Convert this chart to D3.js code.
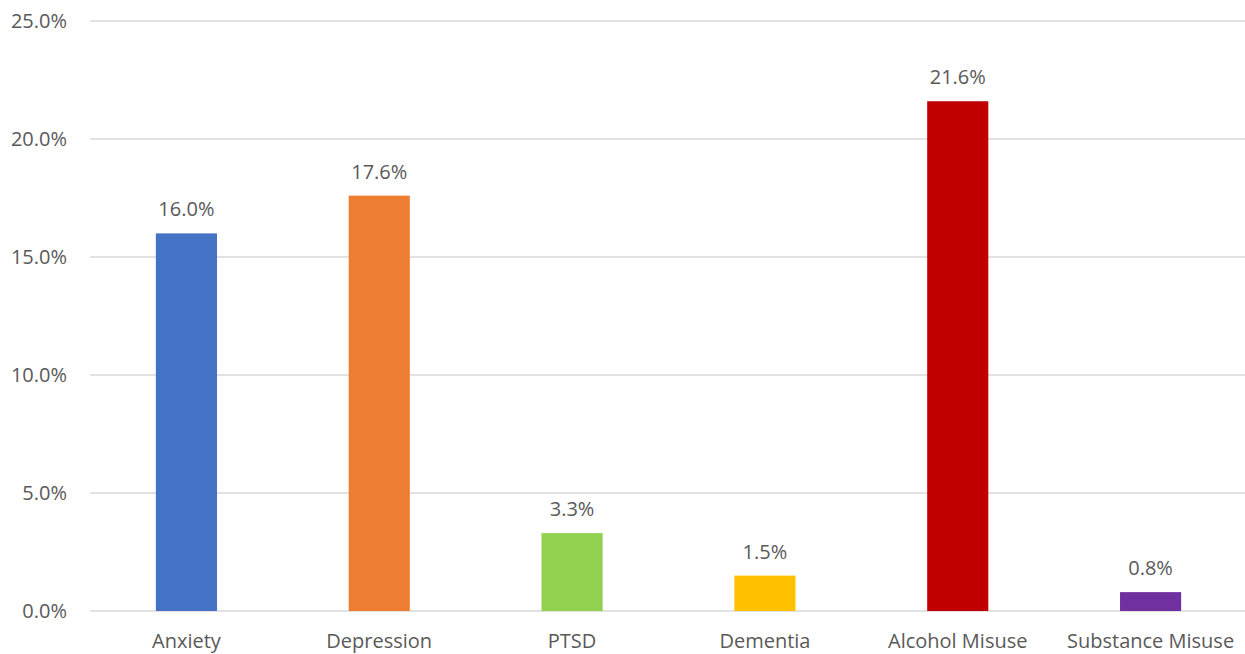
<html>
<head>
  <script src="https://d3js.org/d3.v7.min.js"></script>
  <style>
    body { margin: 0; background: #fff; }
    text { font-family: "Open Sans", sans-serif; fill: #595959; }
  </style>
</head>
<body>
  <script>
    var categories = ["Anxiety", "Depression", "PTSD", "Dementia", "Alcohol Misuse", "Substance Misuse"];
    var values = [16.0, 17.6, 3.3, 1.5, 21.6, 0.8];
    var colors = ["#4472C4", "#ED7D31", "#92D050", "#FFC000", "#C00000", "#7030A0"];
    var yTicks = [0, 5, 10, 15, 20, 25];

    var width = 1245,
      height = 654;
    var margin = { top: 21, right: 0, bottom: 43, left: 90 };

    var svg = d3.select("body")
      .append("svg")
      .attr("width", width)
      .attr("height", height);

    var x = d3.scaleBand()
      .domain(categories)
      .range([margin.left, 1247])
      .paddingInner(0.683)
      .paddingOuter(0.3415);

    var y = d3.scaleLinear()
      .domain([0, 25])
      .range([height - margin.bottom, margin.top]);

    // gridlines
    svg.append("g")
      .selectAll("line")
      .data(yTicks)
      .enter()
      .append("line")
      .attr("x1", margin.left)
      .attr("x2", width - margin.right)
      .attr("y1", function(d){ return y(d); })
      .attr("y2", function(d){ return y(d); })
      .attr("stroke", "#D9D9D9")
      .attr("stroke-width", 1.3);

    // y labels
    svg.append("g")
      .selectAll("text")
      .data(yTicks)
      .enter()
      .append("text")
      .attr("x", 67)
      .attr("y", function(d){ return y(d); })
      .attr("dy", "0.35em")
      .attr("text-anchor", "end")
      .style("font-size", "20px")
      .text(function(d){ return d.toFixed(1) + "%"; });

    // bars
    svg.append("g")
      .selectAll("rect")
      .data(values)
      .enter()
      .append("rect")
      .attr("x", function(d, i){ return x(categories[i]); })
      .attr("width", x.bandwidth())
      .attr("y", function(d){ return y(d); })
      .attr("height", function(d){ return y(0) - y(d); })
      .attr("fill", function(d, i){ return colors[i]; });

    // value labels
    svg.append("g")
      .selectAll("text")
      .data(values)
      .enter()
      .append("text")
      .attr("x", function(d, i){ return x(categories[i]) + x.bandwidth() / 2; })
      .attr("y", function(d){ return y(d) - 17; })
      .attr("text-anchor", "middle")
      .style("font-size", "20px")
      .text(function(d){ return d.toFixed(1) + "%"; });

    // category labels
    svg.append("g")
      .selectAll("text")
      .data(categories)
      .enter()
      .append("text")
      .attr("x", function(d){ return x(d) + x.bandwidth() / 2; })
      .attr("y", height - 6)
      .attr("text-anchor", "middle")
      .style("font-size", "20px")
      .text(function(d){ return d; });
  </script>
</body>
</html>
